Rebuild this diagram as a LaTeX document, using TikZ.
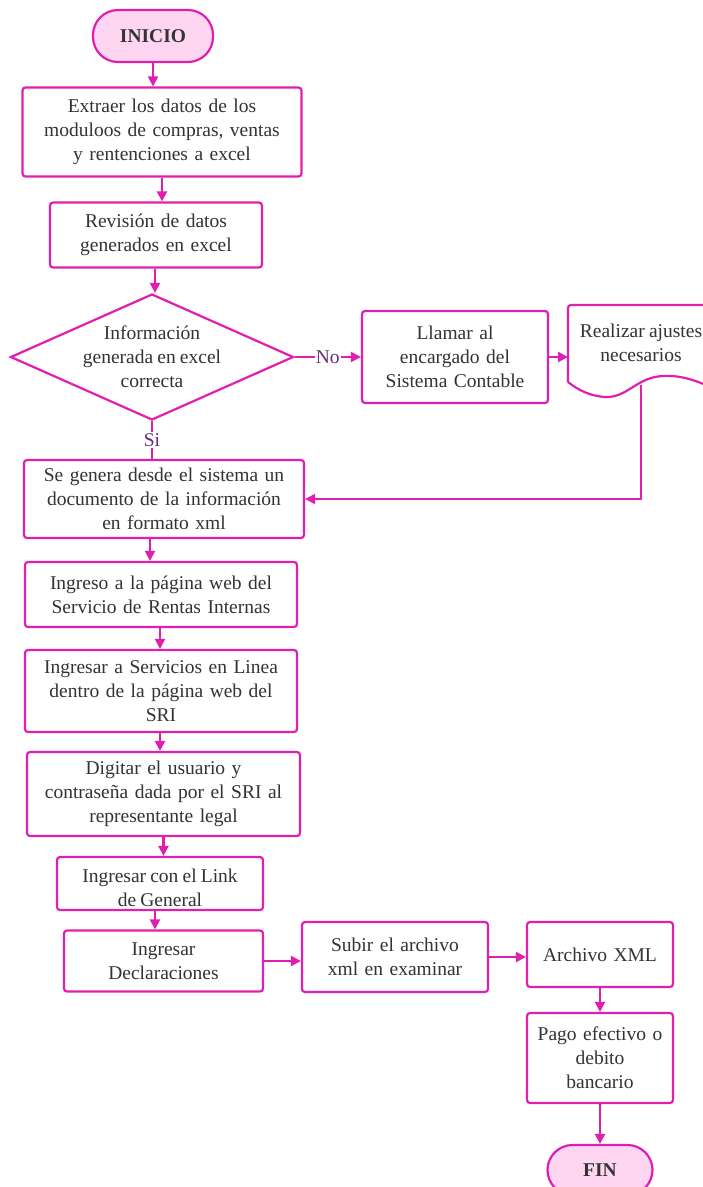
\documentclass[tikz,border=0pt]{standalone}
\usepackage{fontspec}
\setmainfont[WordSpace=0.85]{Liberation Serif}
\usetikzlibrary{shapes.geometric,arrows.meta}
\definecolor{mag}{HTML}{E01FB0}
\definecolor{termfill}{HTML}{FFD6F2}
\definecolor{txt}{HTML}{333333}
\definecolor{lbl}{HTML}{6B2C77}
\newcommand{\bodyfont}{\fontsize{19.5}{24}\selectfont}
\tikzset{
  box/.style={draw=mag, line width=2.2pt, rounded corners=3pt, fill=white,
    align=center, text=txt, inner sep=2pt, font=\bodyfont},
  term/.style={draw=mag, line width=2.2pt, rounded corners=25pt, fill=termfill,
    align=center, text=txt, font=\bodyfont\bfseries},
  arr/.style={draw=mag, line width=2.2pt, -{Triangle[length=10pt,width=10pt]}},
  plainline/.style={draw=mag, line width=2.2pt},
  lab/.style={fill=white, text=lbl, inner sep=1pt, font=\fontsize{19.5}{20}\selectfont},
  freetext/.style={align=center, text=txt, font=\bodyfont},
}
\begin{document}
\begin{tikzpicture}[x=1pt,y=-1pt]
\useasboundingbox (0,0) rectangle (703,1187);
\clip (0,0) rectangle (703,1187);

% terminals
\node[term, minimum width=120pt, minimum height=52pt] (start) at (153,36) {INICIO};
\node[term, minimum width=105pt, minimum height=50pt] (fin) at (600,1170) {FIN};

% process steps, left column
\node[box, minimum width=279pt, minimum height=89pt, text width=272pt] (b1) at (162,132)
  {Extraer los datos de los\\moduloos de compras, ventas\\y rentenciones a excel};
\node[box, minimum width=212pt, minimum height=65pt, text width=205pt] (b2) at (156,235)
  {Revisión de datos\\generados en excel};

% decision
\node[diamond, draw=mag, line width=2.2pt, fill=white, minimum width=283pt,
  minimum height=126pt, inner sep=0pt] (d) at (152,357) {};
\node[freetext] (dtext) at (d.center) {Información\\generada en excel\\correcta};

% branch "No"
\node[box, minimum width=186pt, minimum height=92pt, text width=180pt] (b3) at (455,357)
  {Llamar al\\encargado del\\Sistema Contable};

% document shape "Realizar ajustes necesarios"
\coordinate (docw) at (568,357);
\coordinate (docb) at (641,385);
\draw[mag, line width=2.2pt, fill=white]
  (568,382) -- (568,308) [rounded corners=3pt] -- (568,305) -- (720,305)
  [sharp corners] -- (720,392)
  .. controls (705,384) and (680,372) .. (655,377)
  .. controls (635,381) and (625,398) .. (605,397)
  .. controls (590,396) and (578,390) .. (568,382);
\node[freetext] (doc) at (641,343) {Realizar ajustes\\necesarios};

\node[box, minimum width=280pt, minimum height=78pt, text width=276pt] (b4) at (164,499)
  {Se genera desde el sistema un\\documento de la información\\en formato xml};
\node[box, minimum width=272pt, minimum height=65pt, text width=266pt] (b5) at (161,594.5)
  {Ingreso a la página web del\\Servicio de Rentas Internas};
\node[box, minimum width=272pt, minimum height=82pt, text width=266pt] (b6) at (161,691)
  {Ingresar a Servicios en Linea\\dentro de la página web del\\SRI};
\node[box, minimum width=273pt, minimum height=84pt, text width=268pt] (b7) at (163.5,794)
  {Digitar el usuario y\\contraseña dada por el SRI al\\representante legal};
\node[box, minimum width=206pt, minimum height=53pt, text width=200pt] (b8) at (160,883.5) {};
\node[freetext] (b8t) at (160,888) {Ingresar con el Link\\de General};
\node[box, minimum width=199pt, minimum height=61pt, text width=193pt] (b9) at (163.5,961)
  {Ingresar\\Declaraciones};

% bottom row
\node[box, minimum width=186pt, minimum height=70pt, text width=180pt] (b10) at (395,957)
  {Subir el archivo\\xml en examinar};
\node[box, minimum width=146pt, minimum height=65pt, text width=142pt] (b11) at (600,954.5)
  {Archivo XML};
\node[box, minimum width=146pt, minimum height=90pt, text width=142pt] (b12) at (600,1058)
  {Pago efectivo o\\debito\\bancario};

% connectors
\draw[arr] (start.south) -- (start.south |- b1.north);
\draw[arr] (b1.south) -- (b1.south |- b2.north);
\draw[arr] ([xshift=-1pt]b2.south) -- ([xshift=-1pt]b2.south |- d.north);
\draw[arr] (d.east) -- node[lab] {No} (b3.west);
\draw[arr] (b3.east) -- (docw);
\draw[arr] (docb) |- (b4.east);
\draw[plainline] (d.south) -- node[lab, pos=0.5] {Si} (d.south |- b4.north);
\draw[arr] ([xshift=-14pt]b4.south) -- ([xshift=-14pt]b4.south |- b5.north);
\draw[arr] ([xshift=-1pt]b5.south) -- ([xshift=-1pt]b5.south |- b6.north);
\draw[arr] ([xshift=-1pt]b6.south) -- ([xshift=-1pt]b6.south |- b7.north);
\draw[arr] (b7.south) -- (b7.south |- b8.north);
\draw[arr] ([xshift=-5pt]b8.south) -- ([xshift=-5pt]b8.south |- b9.north);
\draw[arr] (b9.east) -- (b9.east -| b10.west);
\draw[arr] (b10.east) -- (b10.east -| b11.west);
\draw[arr] (b11.south) -- (b12.north);
\draw[arr] (b12.south) -- (fin.north);
\end{tikzpicture}
\end{document}
